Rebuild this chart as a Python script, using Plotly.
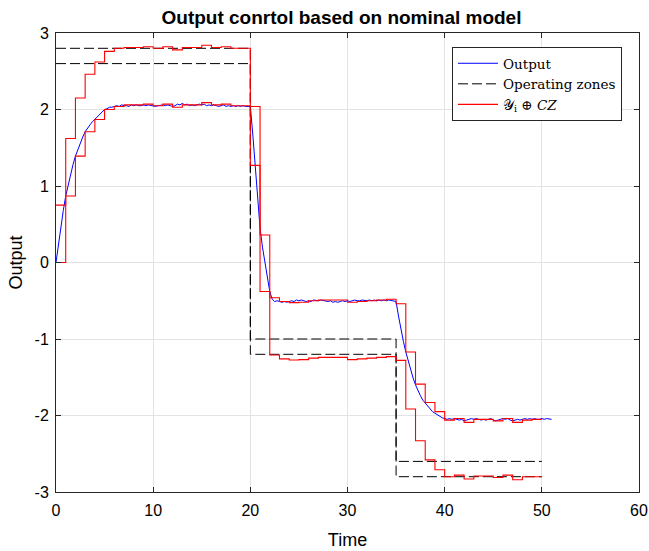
import plotly.graph_objects as go

# ---------------- data ----------------
time_step = 0.25
output_values = [
    0.00, 0.25, 0.47, 0.68,
    0.87, 1.02, 1.15, 1.28,
    1.39, 1.48, 1.56, 1.64,
    1.71, 1.76, 1.80, 1.84,
    1.87, 1.91, 1.94, 1.97,
    2.00, 2.01, 2.03, 2.03,
    2.04, 2.05, 2.04, 2.06,
    2.05, 2.05, 2.04, 2.06,
    2.05, 2.06, 2.05, 2.05,
    2.06, 2.05, 2.06, 2.05,
    2.05, 2.04, 2.05, 2.06,
    2.06, 2.05, 2.06, 2.05,
    2.04, 2.05, 2.07, 2.06,
    2.08, 2.06, 2.07, 2.05,
    2.06, 2.05, 2.06, 2.07,
    2.06, 2.07, 2.05, 2.06,
    2.05, 2.06, 2.05, 2.04,
    2.05, 2.06, 2.04, 2.05,
    2.04, 2.05, 2.04, 2.05,
    2.04, 2.05, 2.04, 2.04,
    2.04, 1.68, 1.27, 0.85,
    0.45, 0.20, 0.00, -0.20,
    -0.38, -0.48, -0.51, -0.50,
    -0.51, -0.52, -0.51, -0.52,
    -0.51, -0.50, -0.51, -0.49,
    -0.50, -0.49, -0.50, -0.51,
    -0.50, -0.51, -0.49, -0.50,
    -0.50, -0.49, -0.50, -0.50,
    -0.51, -0.50, -0.52, -0.51,
    -0.52, -0.51, -0.50, -0.51,
    -0.50, -0.51, -0.50, -0.49,
    -0.50, -0.50, -0.49, -0.50,
    -0.50, -0.49, -0.50, -0.49,
    -0.50, -0.49, -0.50, -0.49,
    -0.50, -0.49, -0.50, -0.51,
    -0.51, -0.70, -0.88, -1.03,
    -1.17, -1.29, -1.41, -1.51,
    -1.60, -1.68, -1.74, -1.80,
    -1.84, -1.88, -1.92, -1.95,
    -1.97, -1.99, -2.02, -2.03,
    -2.04, -2.05, -2.04, -2.05,
    -2.04, -2.05, -2.06, -2.05,
    -2.07, -2.06, -2.05, -2.04,
    -2.05, -2.04, -2.05, -2.06,
    -2.05, -2.06, -2.05, -2.04,
    -2.06, -2.07, -2.06, -2.05,
    -2.04, -2.05, -2.04, -2.06,
    -2.07, -2.06, -2.05, -2.06,
    -2.05, -2.04, -2.05, -2.04,
    -2.05, -2.04, -2.05, -2.05,
    -2.04, -2.05, -2.04, -2.05,
    -2.05,
]
output_time = [i * time_step for i in range(len(output_values))]

# set bounds (one value per unit sampling interval k = 0..49)
set_time = list(range(0, 51))
set_upper = [
    0.75, 1.62, 2.15, 2.46, 2.62, 2.76, 2.80, 2.81, 2.81, 2.82,
    2.80, 2.82, 2.78, 2.81, 2.81, 2.84, 2.81, 2.82, 2.80, 2.80,
    2.04, 0.36, -0.46, -0.51, -0.525, -0.52, -0.50, -0.49, -0.49, -0.49,
    -0.52, -0.51, -0.50, -0.49, -0.48,
    -0.54, -1.17, -1.59, -1.83, -1.95, -2.06, -2.04, -2.09, -2.05, -2.05,
    -2.07, -2.04, -2.09, -2.06, -2.05,
]
set_lower = [
    0.00, 0.87, 1.39, 1.71, 1.87, 2.00, 2.04, 2.06, 2.06, 2.07,
    2.05, 2.07, 2.03, 2.06, 2.06, 2.09, 2.06, 2.07, 2.05, 2.05,
    1.27, -0.38, -1.21, -1.26, -1.275, -1.27, -1.25, -1.24, -1.24, -1.24,
    -1.27, -1.26, -1.25, -1.24, -1.23,
    -1.28, -1.915, -2.33, -2.58, -2.71, -2.80, -2.78, -2.83, -2.79, -2.79,
    -2.81, -2.78, -2.84, -2.80, -2.80,
]

# operating zones
zone_time = [0, 20, 20, 35, 35, 50]
zone_upper = [2.8, 2.8, -1.0, -1.0, -2.6, -2.6]
zone_lower = [2.6, 2.6, -1.2, -1.2, -2.8, -2.8]

x_ticks = [0, 10, 20, 30, 40, 50, 60]
x_tick_labels = ["0", "10", "20", "30", "40", "50", "60"]
y_ticks = [-3, -2, -1, 0, 1, 2, 3]
y_tick_labels = ["-3", "-2", "-1", "0", "1", "2", "3"]

# ---------------- figure ----------------
SANS = "Liberation Sans, Arial, Helvetica, sans-serif"
fig = go.Figure()

fig.add_trace(go.Scatter(
    x=output_time, y=output_values, mode="lines", name="Output",
    line=dict(color="#0000ff", width=1), legendrank=1,
))

dash_style = "10px,4px"
fig.add_trace(go.Scatter(
    x=zone_time, y=zone_upper, mode="lines", name="Operating zones",
    line=dict(color="#000000", width=1, dash=dash_style),
    legendgroup="zones", legendrank=2,
))
fig.add_trace(go.Scatter(
    x=zone_time, y=zone_lower, mode="lines", name="Operating zones",
    line=dict(color="#000000", width=1, dash=dash_style),
    legendgroup="zones", showlegend=False,
))

fig.add_trace(go.Scatter(
    x=set_time, y=set_upper + [set_upper[-1]], mode="lines",
    name="𝒴<sub>i</sub> ⊕ <i>CZ</i>",
    line=dict(color="#ff0000", width=1.1, shape="hv"),
    legendgroup="set", legendrank=3,
))
fig.add_trace(go.Scatter(
    x=set_time, y=set_lower + [set_lower[-1]], mode="lines",
    name="set lower",
    line=dict(color="#ff0000", width=1.1, shape="hv"),
    legendgroup="set", showlegend=False,
))

axis_common = dict(
    showgrid=True, gridcolor="#e3e3e3", gridwidth=1,
    zeroline=False, showline=True, linecolor="#262626", linewidth=1,
    mirror="ticks", ticks="inside", ticklen=5, tickcolor="#262626",
    tickfont=dict(family=SANS, size=16, color="#000000"),
    automargin=False,
)

fig.update_layout(
    width=649, height=551,
    margin=dict(l=56, r=10, t=33, b=59),
    paper_bgcolor="white", plot_bgcolor="white",
    title=dict(
        text="<b>Output conrtol based on nominal model</b>",
        x=341.5 / 649, xanchor="center", y=1 - 17 / 551, yanchor="middle",
        font=dict(family=SANS, size=19, color="#000000"),
    ),
    xaxis=dict(
        range=[0, 60], tickvals=x_ticks, ticktext=x_tick_labels,
        ticklabelstandoff=4,
        title=dict(text="Time", standoff=15,
                   font=dict(family=SANS, size=18, color="#000000")),
        **axis_common,
    ),
    yaxis=dict(
        range=[-3, 3], tickvals=y_ticks, ticktext=y_tick_labels,
        ticklabelstandoff=3,
        title=dict(text="Output", standoff=7,
                   font=dict(family=SANS, size=18, color="#000000")),
        **axis_common,
    ),
    legend=dict(
        x=(622 - 56) / 583, xanchor="right", y=(492 - 47) / 459, yanchor="top",
        bgcolor="white", bordercolor="#262626", borderwidth=1,
        font=dict(family="DejaVu Serif, Liberation Serif, serif", size=13.5, color="#000000"),
        tracegroupgap=0, itemwidth=40,
    ),
    showlegend=True,
)

fig.write_html("out.html")
